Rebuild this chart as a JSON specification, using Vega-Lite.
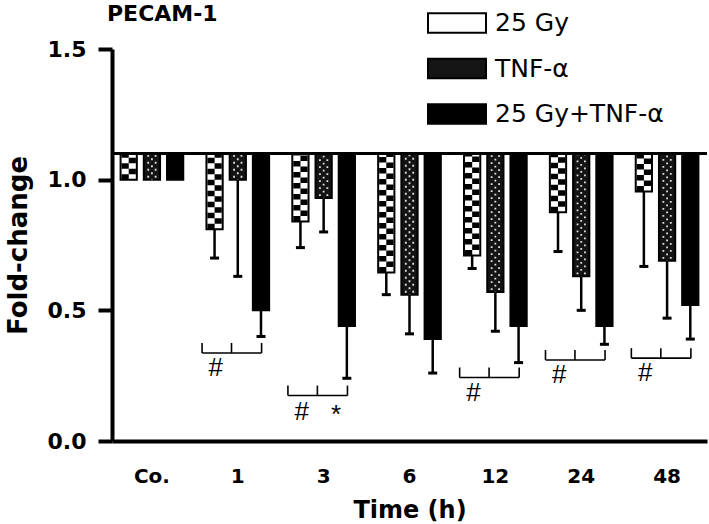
{
  "$schema": "https://vega.github.io/schema/vega-lite/v6.json",
  "width": 595,
  "height": 392,
  "autosize": {"type": "none"},
  "padding": {"left": 112, "top": 49, "right": 2, "bottom": 83},
  "background": "white",
  "title": {"text": "PECAM-1", "anchor": "start", "frame": "group", "font": "DejaVu Sans", "fontWeight": "bold", "fontSize": 22, "color": "black", "dx": -5, "offset": -33},
  "config": {"view": {"stroke": null}},
  "datasets": {
    "bars": [
      {"time": "Co.", "group": "25 Gy", "value": 1.0, "low": null},
      {"time": "Co.", "group": "TNF-α", "value": 1.0, "low": null},
      {"time": "Co.", "group": "25 Gy+TNF-α", "value": 1.0, "low": null},
      {"time": "1", "group": "25 Gy", "value": 0.81, "low": 0.70},
      {"time": "1", "group": "TNF-α", "value": 1.0, "low": 0.63},
      {"time": "1", "group": "25 Gy+TNF-α", "value": 0.50, "low": 0.40},
      {"time": "3", "group": "25 Gy", "value": 0.84, "low": 0.74},
      {"time": "3", "group": "TNF-α", "value": 0.93, "low": 0.80},
      {"time": "3", "group": "25 Gy+TNF-α", "value": 0.44, "low": 0.24},
      {"time": "6", "group": "25 Gy", "value": 0.645, "low": 0.56},
      {"time": "6", "group": "TNF-α", "value": 0.56, "low": 0.41},
      {"time": "6", "group": "25 Gy+TNF-α", "value": 0.39, "low": 0.26},
      {"time": "12", "group": "25 Gy", "value": 0.71, "low": 0.66},
      {"time": "12", "group": "TNF-α", "value": 0.57, "low": 0.42},
      {"time": "12", "group": "25 Gy+TNF-α", "value": 0.44, "low": 0.30},
      {"time": "24", "group": "25 Gy", "value": 0.875, "low": 0.725},
      {"time": "24", "group": "TNF-α", "value": 0.63, "low": 0.50},
      {"time": "24", "group": "25 Gy+TNF-α", "value": 0.44, "low": 0.37},
      {"time": "48", "group": "25 Gy", "value": 0.955, "low": 0.668},
      {"time": "48", "group": "TNF-α", "value": 0.69, "low": 0.47},
      {"time": "48", "group": "25 Gy+TNF-α", "value": 0.52, "low": 0.39}
    ],
    "brackets": [
      {"time": "1", "level": 0.337, "textLevel": 0.28, "hash": "#", "star": ""},
      {"time": "3", "level": 0.174, "textLevel": 0.112, "hash": "#", "star": "*"},
      {"time": "12", "level": 0.243, "textLevel": 0.184, "hash": "#", "star": ""},
      {"time": "24", "level": 0.31, "textLevel": 0.253, "hash": "#", "star": ""},
      {"time": "48", "level": 0.317, "textLevel": 0.259, "hash": "#", "star": ""}
    ],
    "base": [{"base": 1.1}]
  },
  "layer": [
    {
      "data": {"name": "bars"},
      "mark": {"type": "bar", "stroke": "black", "strokeWidth": 2},
      "encoding": {
        "x": {"field": "time", "type": "nominal",
              "scale": {"type": "band", "domain": ["Co.", "1", "3", "6", "12", "24", "48"], "paddingInner": 0.27, "paddingOuter": 0.1},
              "axis": {"title": "Time (h)", "labelAngle": 0, "ticks": false, "domainWidth": 4, "domainColor": "black",
                       "labelFont": "DejaVu Sans", "labelFontWeight": "bold", "labelFontSize": 20, "labelColor": "black", "labelPadding": 25,
                       "titleFont": "DejaVu Sans", "titleFontWeight": "bold", "titleFontSize": 24, "titleColor": "black", "titlePadding": 12}},
        "xOffset": {"field": "group", "type": "nominal",
                    "scale": {"domain": ["25 Gy", "TNF-α", "25 Gy+TNF-α"], "paddingInner": 0.3, "paddingOuter": 0}},
        "y": {"field": "value", "type": "quantitative", "scale": {"domain": [0, 1.5], "nice": false, "zero": true},
              "axis": {"title": "Fold-change", "values": [0, 0.5, 1, 1.5], "format": ".1f", "grid": false,
                       "tickSize": 14, "tickWidth": 4, "tickColor": "black", "domainWidth": 4, "domainColor": "black",
                       "labelFont": "DejaVu Sans", "labelFontWeight": "bold", "labelFontSize": 22, "labelColor": "black", "labelPadding": 12,
                       "titleFont": "DejaVu Sans", "titleFontWeight": "bold", "titleFontSize": 26, "titleColor": "black", "titlePadding": 16}},
        "y2": {"datum": 1.1},
        "fill": {"field": "group", "type": "nominal",
                 "scale": {"domain": ["25 Gy", "TNF-α", "25 Gy+TNF-α"], "range": ["#ffffff", "#141414", "#000000"]},
                 "legend": {"title": null, "orient": "none", "legendX": 315, "legendY": -56, "padding": 0,
                            "symbolType": "M-1,-0.34H1V0.34H-1Z", "symbolSize": 3364, "symbolStrokeColor": "black", "symbolStrokeWidth": 2,
                            "symbolOpacity": 1, "labelFont": "DejaVu Sans", "labelFontSize": 25, "labelColor": "black", "labelOffset": 8,
                            "labelLimit": 400, "rowPadding": 1.5}}
      }
    },
    {
      "data": {"name": "bars"},
      "transform": [{"filter": "datum.group === '25 Gy'"}],
      "mark": {"type": "rule", "color": "black", "strokeWidth": 7.2, "strokeDash": [5.5, 5.5]},
      "encoding": {
        "x": {"field": "time", "type": "nominal", "bandPosition": 0.073},
        "y": {"field": "value", "type": "quantitative"},
        "y2": {"datum": 1.1}
      }
    },
    {
      "data": {"name": "bars"},
      "transform": [{"filter": "datum.group === '25 Gy'"}],
      "mark": {"type": "rule", "color": "black", "strokeWidth": 7.2, "strokeDash": [5.5, 5.5], "strokeDashOffset": 5.5},
      "encoding": {
        "x": {"field": "time", "type": "nominal", "bandPosition": 0.187},
        "y": {"field": "value", "type": "quantitative"},
        "y2": {"datum": 1.1}
      }
    },
    {
      "data": {"name": "bars"},
      "transform": [{"filter": "datum.group === 'TNF-α'"}],
      "mark": {"type": "rule", "color": "#e0e0e0", "strokeWidth": 1.8, "strokeDash": [1.8, 5.2], "strokeDashOffset": -2},
      "encoding": {
        "x": {"field": "time", "type": "nominal", "bandPosition": 0.441},
        "y": {"field": "value", "type": "quantitative"},
        "y2": {"datum": 1.1}
      }
    },
    {
      "data": {"name": "bars"},
      "transform": [{"filter": "datum.group === 'TNF-α'"}],
      "mark": {"type": "rule", "color": "#e0e0e0", "strokeWidth": 1.8, "strokeDash": [1.8, 5.2], "strokeDashOffset": 1.5},
      "encoding": {
        "x": {"field": "time", "type": "nominal", "bandPosition": 0.5},
        "y": {"field": "value", "type": "quantitative"},
        "y2": {"datum": 1.1}
      }
    },
    {
      "data": {"name": "bars"},
      "transform": [{"filter": "datum.group === 'TNF-α'"}],
      "mark": {"type": "rule", "color": "#e0e0e0", "strokeWidth": 1.8, "strokeDash": [1.8, 5.2], "strokeDashOffset": -2},
      "encoding": {
        "x": {"field": "time", "type": "nominal", "bandPosition": 0.559},
        "y": {"field": "value", "type": "quantitative"},
        "y2": {"datum": 1.1}
      }
    },
    {
      "data": {"name": "bars"},
      "transform": [{"filter": "datum.low != null"}],
      "mark": {"type": "rule", "color": "black", "strokeWidth": 2.5},
      "encoding": {
        "x": {"field": "time", "type": "nominal"},
        "xOffset": {"field": "group", "type": "nominal"},
        "y": {"field": "value", "type": "quantitative"},
        "y2": {"field": "low"}
      }
    },
    {
      "data": {"name": "bars"},
      "transform": [{"filter": "datum.low != null"}],
      "mark": {"type": "tick", "color": "black", "size": 9, "thickness": 3, "opacity": 1},
      "encoding": {
        "x": {"field": "time", "type": "nominal"},
        "xOffset": {"field": "group", "type": "nominal"},
        "y": {"field": "low", "type": "quantitative"}
      }
    },
    {
      "data": {"name": "base"},
      "mark": {"type": "rule", "color": "black", "strokeWidth": 3},
      "encoding": {"y": {"field": "base", "type": "quantitative"}}
    },
    {
      "data": {"name": "brackets"},
      "mark": {"type": "rule", "color": "black", "strokeWidth": 1.6},
      "encoding": {
        "x": {"field": "time", "type": "nominal", "bandPosition": -0.07},
        "x2": {"field": "time", "bandPosition": 0.88},
        "y": {"field": "level", "type": "quantitative"}
      }
    },
    {
      "data": {"name": "brackets"},
      "mark": {"type": "rule", "color": "black", "strokeWidth": 1.6, "y2Offset": -10},
      "encoding": {
        "x": {"field": "time", "type": "nominal", "bandPosition": -0.07},
        "y": {"field": "level", "type": "quantitative"},
        "y2": {"field": "level"}
      }
    },
    {
      "data": {"name": "brackets"},
      "mark": {"type": "rule", "color": "black", "strokeWidth": 1.6, "y2Offset": -10},
      "encoding": {
        "x": {"field": "time", "type": "nominal", "bandPosition": 0.4},
        "y": {"field": "level", "type": "quantitative"},
        "y2": {"field": "level"}
      }
    },
    {
      "data": {"name": "brackets"},
      "mark": {"type": "rule", "color": "black", "strokeWidth": 1.6, "y2Offset": -10},
      "encoding": {
        "x": {"field": "time", "type": "nominal", "bandPosition": 0.88},
        "y": {"field": "level", "type": "quantitative"},
        "y2": {"field": "level"}
      }
    },
    {
      "data": {"name": "brackets"},
      "mark": {"type": "text", "font": "Liberation Sans", "fontSize": 26, "color": "black", "baseline": "middle", "align": "center"},
      "encoding": {
        "x": {"field": "time", "type": "nominal", "bandPosition": 0.15},
        "y": {"field": "textLevel", "type": "quantitative"},
        "text": {"field": "hash"}
      }
    },
    {
      "data": {"name": "brackets"},
      "mark": {"type": "text", "font": "Liberation Sans", "fontSize": 26, "color": "black", "baseline": "middle", "align": "center", "dy": 3},
      "encoding": {
        "x": {"field": "time", "type": "nominal", "bandPosition": 0.7},
        "y": {"field": "textLevel", "type": "quantitative"},
        "text": {"field": "star"}
      }
    }
  ]
}
